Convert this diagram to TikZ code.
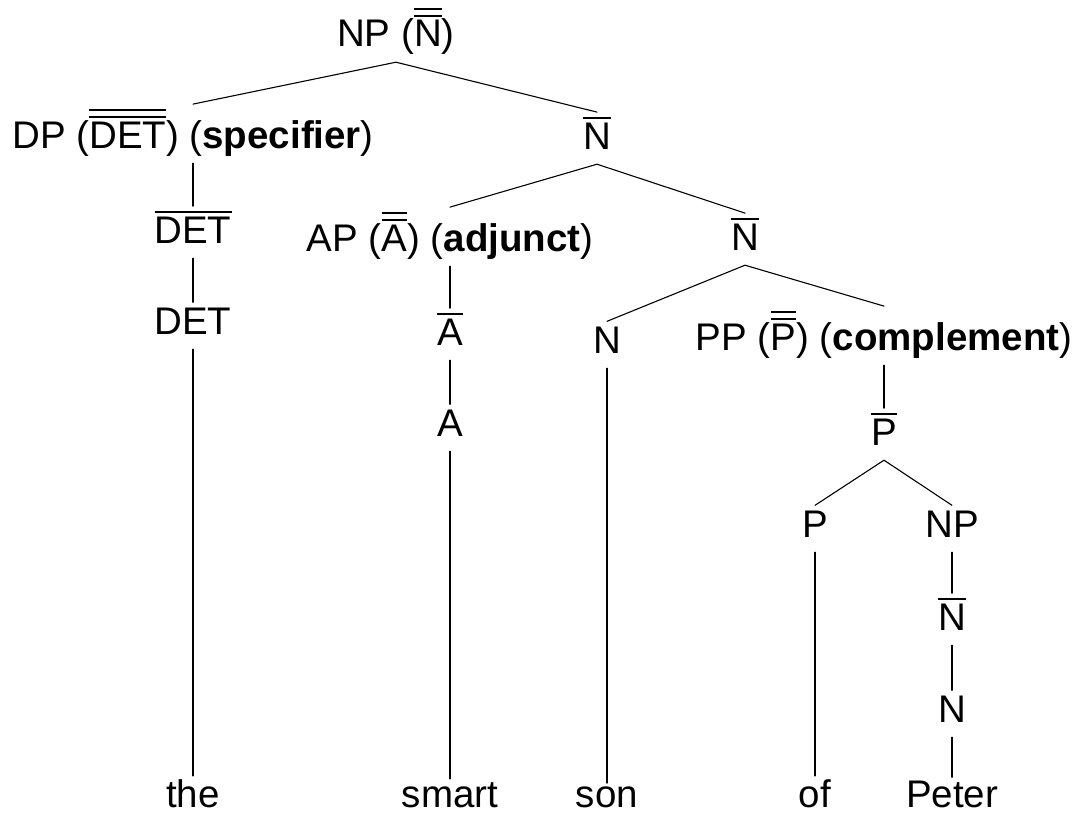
\documentclass[tikz,border=0pt]{standalone}
\usepackage{fontspec}
\setmainfont{Liberation Sans}
% bar-level notation: one or two rules over a category label
\newcommand\ovl[1]{\vbox{\hrule height 1.6pt\kern3.6pt\hbox{#1}}}
\newcommand\ovll[1]{\vbox{\hrule height 1.6pt\kern5.4pt\hrule height 1.6pt\kern3.6pt\hbox{#1}}}
\begin{document}
\begin{tikzpicture}[x=1pt,y=-1pt,
  lbl/.style={anchor=base, inner xsep=0pt, inner ysep=5pt, text depth=10pt,
              font=\fontsize{38.5pt}{46pt}\selectfont},
  word/.style={lbl, text depth=0pt, inner ysep=3pt},
  edge/.style={line width=1.1pt, line cap=round}]
\useasboundingbox (0,0) rectangle (1073,816);

% categories
\node[lbl] (root) at (396,47)  {NP (\ovll{N})};
\node[lbl] (dp)   at (193,148) {DP (\ovll{DET}) (\textbf{specifier})};
\node[lbl] (nb1)  at (597,149) {\ovl{N}};
\node[lbl] (detb) at (193,243) {\ovl{DET}};
\node[lbl] (ap)   at (450,251) {AP (\ovll{A}) (\textbf{adjunct})};
\node[lbl] (nb2)  at (745,250) {\ovl{N}};
\node[lbl] (det)  at (193,334) {DET};
\node[lbl] (ab)   at (450,345) {\ovl{A}};
\node[lbl] (n1)   at (607,353) {N};
\node[lbl] (pp)   at (884,350) {PP (\ovll{P}) (\textbf{complement})};
\node[lbl] (a)    at (450,436) {A};
\node[lbl] (pb)   at (884,445) {\ovl{P}};
\node[lbl] (p)    at (815,537) {P};
\node[lbl] (np)   at (952,537) {NP};
\node[lbl] (nb3)  at (952,630) {\ovl{N}};
\node[lbl] (n2)   at (952,722) {N};

% words
\node[word] (w1) at (193,807) {the};
\node[word] (w2) at (450,807) {smart};
\node[word] (w3) at (607,807) {son};
\node[word] (w4) at (815,807) {of};
\node[word] (w5) at (952,807) {Peter};

% branches
\draw[edge] (dp.north) -- (root.south) -- (nb1.north);
\draw[edge] (ap.north) -- (nb1.south) -- (nb2.north);
\draw[edge] (n1.north) -- (nb2.south) -- (pp.north);
\draw[edge] (p.north) -- (pb.south) -- (np.north);
\draw[edge] (dp.south) -- (detb.north);
\draw[edge] (detb.south) -- (det.north);
\draw[edge] (det.south) -- (w1.north);
\draw[edge] (ap.south) -- (ab.north);
\draw[edge] (ab.south) -- (a.north);
\draw[edge] (a.south) -- (w2.north);
\draw[edge] (n1.south) -- (w3.north);
\draw[edge] (pp.south) -- (pb.north);
\draw[edge] (p.south) -- (w4.north);
\draw[edge] (np.south) -- (nb3.north);
\draw[edge] (nb3.south) -- (n2.north);
\draw[edge] (n2.south) -- (w5.north);
\end{tikzpicture}
\end{document}
